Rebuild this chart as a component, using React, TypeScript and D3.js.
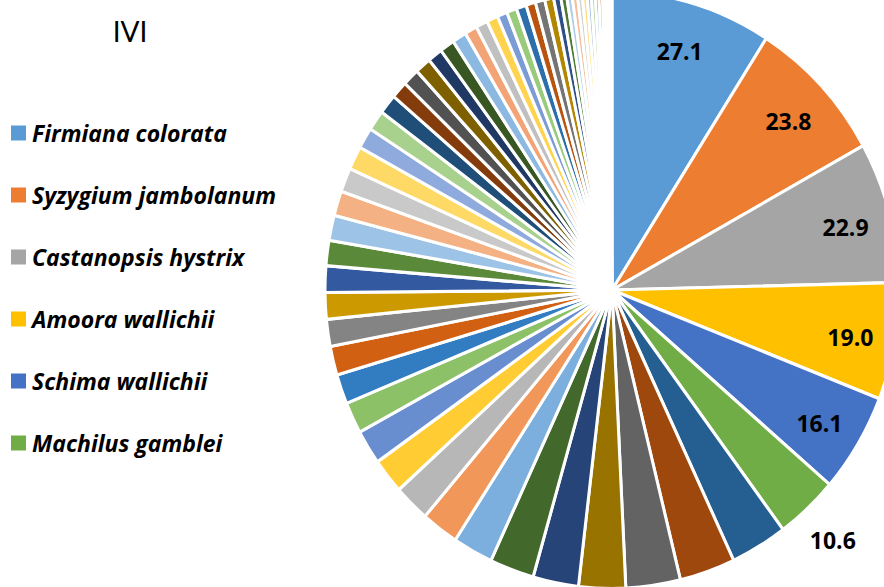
import React from "react";
import * as d3 from "d3";

const chartTitle = "IVI";

const legendNames = [
  "Firmiana colorata",
  "Syzygium jambolanum",
  "Castanopsis hystrix",
  "Amoora wallichii",
  "Schima wallichii",
  "Machilus gamblei",
];

// IVI values of all species (clockwise from 12 o'clock)
const iviValues = [
  27.1, 23.8, 22.9, 19.0, 16.1, 10.6,
  9.6, 9.4, 9.2, 7.9, 7.7, 7.5,
  6.8, 6.3, 6.1, 5.7, 5.6, 5.1,
  4.8, 4.7, 4.4, 4.3, 4.3, 4.1,
  4.1, 4.0, 3.9, 3.8, 3.4, 3.3,
  3.2, 2.8, 2.8, 2.7, 2.5, 2.5,
  2.4, 2.1, 2.0, 1.9, 1.7, 1.7,
  1.7, 1.6, 1.6, 1.5, 1.2, 1.0,
  0.9, 0.9, 0.8, 0.8, 0.7, 0.7,
  0.6, 0.6, 0.5, 0.5, 0.4, 0.2,
];

// number of slices that carry a data label
const labelledCount = 6;

const palette = [
  "#5B9BD5", "#ED7D31", "#A5A5A5", "#FFC000", "#4472C4", "#70AD47",
  "#255E91", "#9E480E", "#636363", "#997300", "#264478", "#43682B",
  "#7CAFDD", "#F1975A", "#B7B7B7", "#FFCD33", "#698ED0", "#8CC168",
  "#327DC2", "#D26012", "#848484", "#CC9A00", "#335AA1", "#5A8A39",
  "#9DC3E6", "#F4B183", "#C9C9C9", "#FFD966", "#8FAADC", "#A9D18E",
  "#1F4E79", "#843C0C", "#525252", "#7F6000", "#203864", "#385723",
  "#8CB9E1", "#F3A476", "#C0C0C0", "#FFD34D", "#7C9CD6", "#9ACA7B",
  "#2C6EAB", "#B85410", "#747474", "#B38600", "#2F4F8A", "#4E7A32",
  "#ADCDEA", "#F6BE98", "#D2D2D2", "#FFE080", "#A2B9E2", "#B7D9A0",
  "#3A85CA", "#DD6A1C", "#8E8E8E", "#D9A300", "#3D66B0", "#62963E",
];

const W = 884;
const H = 587;
const cx = 612;
const cy = 290;
const R = 287;
const yStretch = 1.04;

export default function App() {
  const pie = d3
    .pie<number>()
    .sort(null)
    .value((d) => d)
    .startAngle(0)
    .endAngle(2 * Math.PI);
  const arcs = pie(iviValues);
  const arc = d3.arc<d3.PieArcDatum<number>>().innerRadius(0).outerRadius(R);
  const labelArcIn = d3
    .arc<d3.PieArcDatum<number>>()
    .innerRadius(242)
    .outerRadius(242);
  const labelArcOut = d3
    .arc<d3.PieArcDatum<number>>()
    .innerRadius(324)
    .outerRadius(324);

  const font = "'Open Sans', Lato, sans-serif";

  return (
    <svg
      width={W}
      height={H}
      style={{ position: "absolute", left: 0, top: 0, background: "#fff" }}
    >
      <g transform={`translate(${cx},${cy}) scale(1,${yStretch})`}>
        {arcs.map((a, i) => (
          <path
            key={i}
            d={arc(a) || ""}
            fill={palette[i % palette.length]}
            stroke="#fff"
            strokeWidth={3}
            strokeLinejoin="round"
          />
        ))}
      </g>
      {arcs.slice(0, labelledCount).map((a, i) => {
        const outside = i === labelledCount - 1;
        const [lx, ly] = (outside ? labelArcOut : labelArcIn).centroid(a);
        return (
          <text
            key={i}
            x={cx + lx}
            y={cy + ly * yStretch + 3}
            textAnchor="middle"
            dominantBaseline="central"
            fontFamily={font}
            fontWeight="bold"
            fontSize={23}
            fill="#000"
          >
            {a.data.toFixed(1)}
          </text>
        );
      })}
      <text
        x={130}
        y={31}
        textAnchor="middle"
        dominantBaseline="central"
        fontFamily="Lato, sans-serif"
        fontSize={28}
        fill="#000"
      >
        {chartTitle}
      </text>
      {legendNames.map((name, i) => {
        const y = 133 + i * 62;
        return (
          <g key={name}>
            <rect x={11} y={y - 7.5} width={15} height={15} fill={palette[i]} />
            <text
              x={32}
              y={y}
              dominantBaseline="central"
              fontFamily={font}
              fontWeight="bold"
              fontStyle="italic"
              fontSize={23}
              fill="#000"
            >
              {name}
            </text>
          </g>
        );
      })}
    </svg>
  );
}
